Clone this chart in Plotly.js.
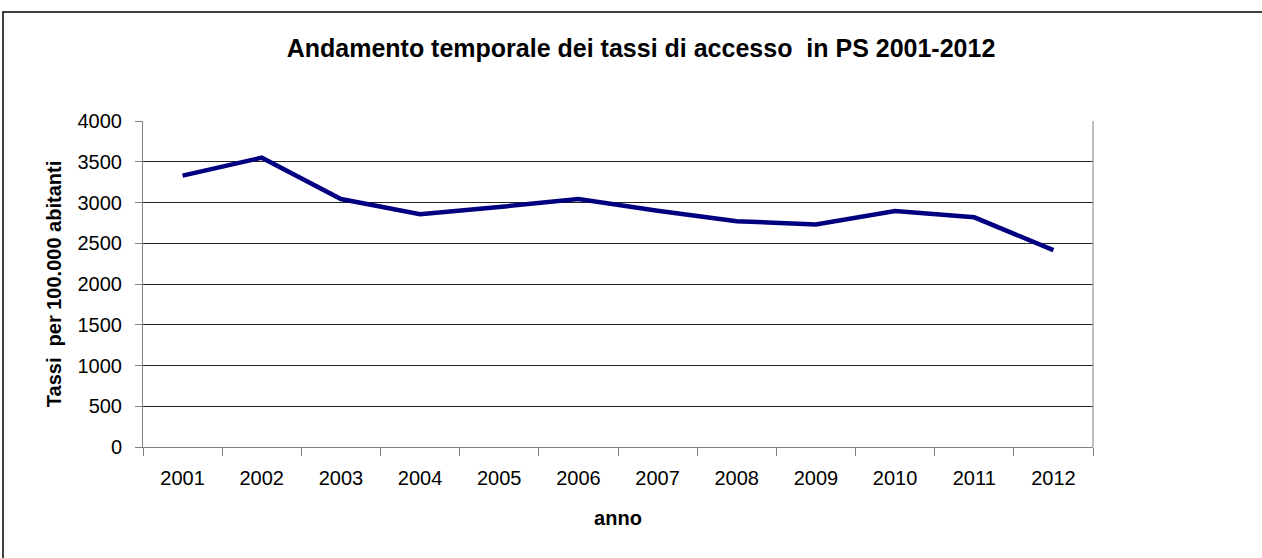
<!DOCTYPE html>
<html>
<head>
<meta charset="utf-8">
<script src="https://cdn.plot.ly/plotly-3.0.1.min.js"></script>
<style>html,body{margin:0;padding:0;background:#fff;}#chart{width:1262px;height:558px;}</style>
</head>
<body>
<div id="chart"></div>
<script>
const years = ["2001","2002","2003","2004","2005","2006","2007","2008","2009","2010","2011","2012"];
const tassi = [3330, 3550, 3043, 2857, 2945, 3043, 2900, 2770, 2730, 2895, 2818, 2415];
const yTicks = [0, 500, 1000, 1500, 2000, 2500, 3000, 3500, 4000];

const font = "Liberation Sans, Arial, sans-serif";

Plotly.newPlot("chart", [{
  x: years,
  y: tassi,
  type: "scatter",
  mode: "lines",
  line: {color: "#000080", width: 4.5},
  hoverinfo: "skip"
}], {
  width: 1262, height: 558,
  margin: {l: 143, r: 169, t: 121, b: 111},
  paper_bgcolor: "#fff", plot_bgcolor: "#fff",
  showlegend: false,
  font: {family: font, color: "#000"},
  title: {
    text: "<b>Andamento temporale dei tassi di accesso  in PS 2001-2012</b>",
    font: {family: font, size: 25, color: "#000"},
    x: 641/1262, xref: "container", xanchor: "center",
    y: 1 - 48/558, yref: "container", yanchor: "middle"
  },
  xaxis: {
    type: "category",
    range: [-0.5, 11.5],
    tickson: "boundaries",
    ticks: "outside", ticklen: 8, tickcolor: "#808080", tickwidth: 1,
    showgrid: false,
    showline: true, linecolor: "#808080", linewidth: 1,
    tickfont: {family: font, size: 20, color: "#000"},
    ticklabelstandoff: 13,
    title: {text: "<b>anno</b>", font: {family: font, size: 20, color: "#000"}, standoff: 22},
    automargin: false,
    fixedrange: true
  },
  yaxis: {
    range: [0, 4000],
    tickvals: yTicks,
    ticktext: yTicks.map(String),
    ticks: "outside", ticklen: 7, tickcolor: "#808080", tickwidth: 1,
    showgrid: true, gridcolor: "#222", gridwidth: 1,
    zeroline: false,
    showline: true, linecolor: "#808080", linewidth: 1,
    mirror: false,
    tickfont: {family: font, size: 20, color: "#000"},
    ticklabelstandoff: 9,
    title: {text: "<b>Tassi  per 100.000 abitanti</b>", font: {family: font, size: 20, color: "#000"}, standoff: 10},
    automargin: false,
    fixedrange: true
  },
  shapes: [
    {type: "line", xref: "paper", yref: "paper", x0: 1, x1: 1, y0: 0, y1: 1, line: {color: "#808080", width: 1}},
    {type: "rect", xref: "paper", yref: "paper", x0: (3-143)/950, x1: 1.5, y0: -0.5, y1: (447-12)/326, line: {color: "#000", width: 1.5}, fillcolor: "rgba(0,0,0,0)", layer: "below"}
  ]
}, {staticPlot: true});
</script>
</body>
</html>
